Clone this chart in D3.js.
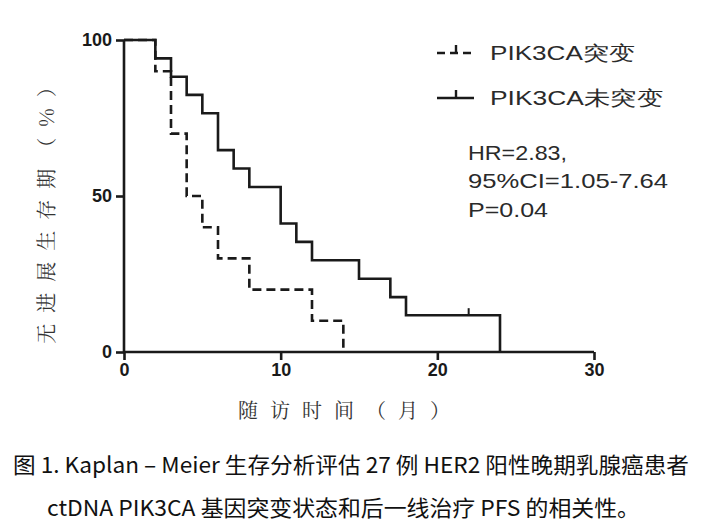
<!DOCTYPE html>
<html><head><meta charset="utf-8">
<script src="https://cdn.jsdelivr.net/npm/d3@7"></script>
<style>body{margin:0;background:#fff}</style>
</head><body><svg id="c" width="709" height="529"></svg>
<script>
// Data
const mutTime = [0, 2, 3, 4, 5, 6, 8, 12, 14];
const mutSurv = [100, 90, 70, 50, 40, 30, 20, 10, 0];
const wildTime = [0, 2, 3, 4, 5, 6, 7, 8, 10, 11, 12, 15, 17, 18, 24];
const wildSurv = [100, 94.1, 88.2, 82.4, 76.5, 64.7, 58.8, 52.9, 41.2, 35.3, 29.4, 23.5, 17.6, 11.8, 0];
const wildCensor = [22];
const xTicks = [0, 10, 20, 30];
const yTicks = [0, 50, 100];
const legendLabels = ["PIK3CA突变", "PIK3CA未突变"];
const statsLines = ["HR=2.83,", "95%CI=1.05-7.64", "P=0.04"];
const xTitle = "随访时间（月）";
const yTitle = "无进展生存期（%）";
const caption = ["图 1. Kaplan – Meier 生存分析评估 27 例 HER2 阳性晚期乳腺癌患者",
                 "ctDNA PIK3CA 基因突变状态和后一线治疗 PFS 的相关性。"];

const svg = d3.select("#c");
const x = d3.scaleLinear().domain([0, 30]).range([124, 594]);
const y = d3.scaleLinear().domain([0, 100]).range([352, 40]);
const ink = "#1a1a1a";

// axes
const xa = svg.append("g").attr("transform", `translate(0,${y(0)})`)
  .call(d3.axisBottom(x).tickValues(xTicks).tickSize(8).tickPadding(3));
const ya = svg.append("g").attr("transform", `translate(${x(0)},0)`)
  .call(d3.axisLeft(y).tickValues(yTicks).tickSize(8).tickPadding(4));
[xa, ya].forEach(a => {
  a.attr("font-family", null).attr("font-size", null);
  a.select(".domain").attr("stroke", ink).attr("stroke-width", 2.6);
  a.selectAll(".tick line").attr("stroke", ink).attr("stroke-width", 2.6);
  a.selectAll(".tick text").attr("fill", ink)
   .style("font-family", "'Liberation Sans', Arial, sans-serif")
   .style("font-weight", "bold").style("font-size", "18px");
});
xa.select(".domain").attr("d", `M${x(0)},0H${x(30)}`);
ya.select(".domain").attr("d", `M0,${y(0)}V${y(100)}`);

function stepPath(t, s) {
  let d = `M${x(t[0])},${y(s[0])}`;
  for (let i = 1; i < t.length; i++) {
    d += `H${x(t[i])}V${y(s[i])}`;
  }
  return d;
}
svg.append("path").attr("d", stepPath(wildTime, wildSurv)).attr("fill", "none")
  .attr("stroke", ink).attr("stroke-width", 2.6);
svg.append("path").attr("d", stepPath(mutTime, mutSurv)).attr("fill", "none")
  .attr("stroke", ink).attr("stroke-width", 2.6).attr("stroke-dasharray", "9,5");
// censor marks
wildCensor.forEach(c => {
  const i = d3.bisectRight(wildTime, c) - 1;
  svg.append("line").attr("x1", x(c)).attr("x2", x(c))
    .attr("y1", y(wildSurv[i])).attr("y2", y(wildSurv[i]) - 7)
    .attr("stroke", ink).attr("stroke-width", 2);
});

// legend
const lg = svg.append("g");
[0, 1].forEach(i => {
  const yy = 53 + i * 45;
  lg.append("line").attr("x1", 437).attr("x2", 474).attr("y1", yy).attr("y2", yy)
    .attr("stroke", ink).attr("stroke-width", 2.6)
    .attr("stroke-dasharray", i === 0 ? "8,5" : null);
  lg.append("line").attr("x1", 456).attr("x2", 456).attr("y1", yy).attr("y2", yy - 8)
    .attr("stroke", ink).attr("stroke-width", 2.4);
  lg.append("text").attr("x", 490).attr("y", yy + 7).text(legendLabels[i])
    .attr("font-family", "Liberation Sans, Arial").attr("font-size", 20).attr("fill", "#2a2a2a")
    .attr("textLength", i === 0 ? 145 : 173).attr("lengthAdjust", "spacingAndGlyphs");
});
const statsY = [160, 188, 217];
const statsW = [99, 200, 80];
statsLines.forEach((s, i) => {
  svg.append("text").attr("x", 468).attr("y", statsY[i]).text(s)
    .attr("font-family", "Liberation Sans, Arial").attr("font-size", 21).attr("fill", "#2a2a2a")
    .attr("textLength", statsW[i]).attr("lengthAdjust", "spacingAndGlyphs");
});

// axis titles
svg.append("text").attr("x", 350).attr("y", 418).attr("text-anchor", "middle")
  .text(xTitle).attr("font-family", "Noto Serif CJK SC, Noto Sans CJK SC").attr("font-size", 20)
  .attr("fill", "#333").attr("letter-spacing", 12);
svg.append("text").attr("transform", "translate(54,205) rotate(-90)").attr("text-anchor", "middle")
  .text(yTitle).attr("font-family", "Noto Serif CJK SC, Noto Sans CJK SC").attr("font-size", 20)
  .attr("fill", "#333").attr("letter-spacing", 11);

// caption
caption.forEach((c, i) => {
  svg.append("text").attr("x", i === 0 ? 13 : 47).attr("y", 473 + i * 43).text(c)
    .attr("font-family", "'Liberation Sans Narrow', 'Noto Sans CJK SC'").attr("font-size", 22).attr("fill", "#111")
    .attr("textLength", i === 0 ? 676 : 593).attr("lengthAdjust", "spacingAndGlyphs");
});
</script></body></html>
